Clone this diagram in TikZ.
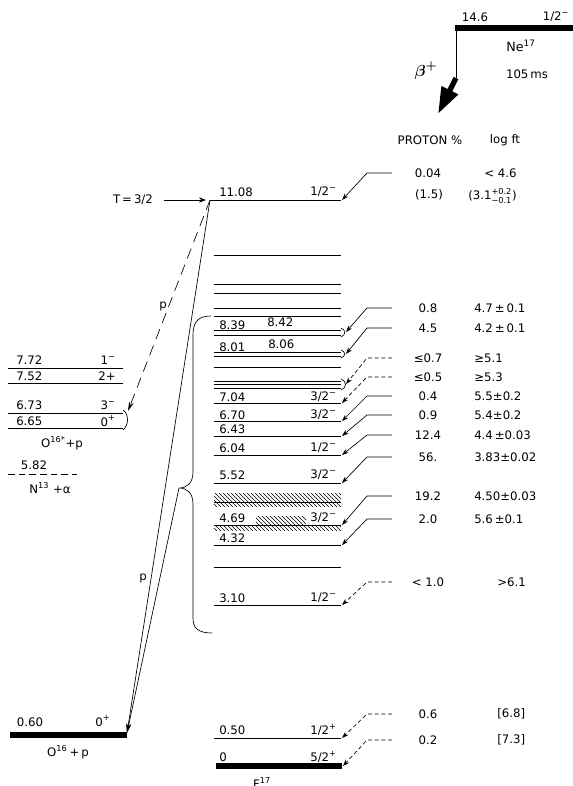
\documentclass[tikz,border=0pt]{standalone}
\usepackage{fontspec}
\setmainfont{DejaVu Sans}
\usepackage{amsmath}
\usetikzlibrary{arrows.meta, patterns, positioning}

\begin{document}
\begin{tikzpicture}[x=0.75pt, y=-0.75pt, >=Stealth,
  lvl/.style={line width=0.6pt},
  gnd/.style={line width=3.8pt},
  lab/.style={font=\fontsize{8.8}{10}\selectfont, inner sep=0pt},
  lead/.style={line width=0.5pt, -{Stealth[length=5pt,width=3.5pt]}},
  dleader/.style={dash pattern=on 3pt off 2pt},
  pline/.style={line width=0.5pt, -{Stealth[length=7pt,width=3.5pt]}},
  brk/.style={line width=0.5pt}]
\useasboundingbox (0,0) rectangle (573,786);

% Ne17 parent and beta branch
\draw[gnd] (455,28) -- (573,28);
\node[lab] (ne-e) at (475,17) {14.6};
\node[lab] (ne-j) at (556,17) {1/2\textsuperscript{−}};
\node[lab, font=\fontsize{9.5}{11}\selectfont] (ne-n) at (521,46) {Ne\textsuperscript{17}};
\node[lab] (ne-t) at (527,74) {105\,ms};
\node[lab, font=\fontsize{13}{14}\selectfont] (beta) at (426,71) {$\boldsymbol{\beta}^{\boldsymbol{+}}$};
\coordinate (bstart) at (456,30);
\coordinate (bknee) at (456,78);
\coordinate (btip) at (438,114);
\draw[line width=0.6pt] (bstart) -- (bknee);
\draw[line width=4pt, -{Triangle[length=20pt,width=13pt]}] (bknee) -- (btip);

% F17 levels
\draw[lvl] (210,200) -- (341,200);
\foreach \y in {255,284,293,308,316,330,335,352,356,367,381,384,388,
                403,421,436,455,483,502,525,545,567,605,738}
  \draw[lvl] (214,\y) -- (341,\y);
\draw[gnd] (216,766) -- (342,766);
% broad states
\fill[pattern=north west lines] (214,493) rectangle (341,506);
\fill[pattern=north west lines] (256,516) rectangle (306,524);
\fill[pattern=north west lines] (214,526) rectangle (341,530);
% unresolved pairs
\draw[brk] (341,328) .. controls (346,330) and (346,335) .. (341,337);
\draw[brk] (341,350) .. controls (346,352) and (346,356) .. (341,358);
\draw[brk] (341,379) .. controls (347,381) and (347,388) .. (341,390);

\foreach \y/\e in {192/11.08, 325/8.39, 347/8.01, 397/7.04, 415/6.70, 429/6.43,
                   448/6.04, 475/5.52, 518/4.69, 538/4.32, 598/3.10, 730/0.50, 757/0}
  \node[lab, anchor=west] (le-\y) at (219,\y) {\e};
\node[lab, anchor=west] (le-842) at (267,322) {8.42};
\node[lab, anchor=west] (le-806) at (268,344) {8.06};
\foreach \y/\j in {192/{1/2\textsuperscript{−}}, 397/{3/2\textsuperscript{−}},
                   415/{3/2\textsuperscript{−}}, 448/{1/2\textsuperscript{−}},
                   475/{3/2\textsuperscript{−}}, 518/{3/2\textsuperscript{−}},
                   598/{1/2\textsuperscript{−}}, 730/{1/2\textsuperscript{+}},
                   757/{5/2\textsuperscript{+}}}
  \node[lab, anchor=east] (lj-\y) at (337,\y) {\j};
\node[lab] (f17) at (262,783) {F\textsuperscript{17}};

% O16 + p side
\draw[gnd] (10,735) -- (127,735);
\node[lab] (o-e) at (30,722) {0.60};
\node[lab] (o-j) at (103,721) {0\textsuperscript{+}};
\node[lab] (o-n) at (68,752) {O\textsuperscript{16}\,+\,p};
\foreach \y in {368,383,413,428}
  \draw[lvl] (8,\y) -- (123,\y);
\foreach \y/\e/\j in {360/7.72/{1\textsuperscript{−}}, 376/7.52/{2+},
                      405/6.73/{3\textsuperscript{−}}, 421/6.65/{0\textsuperscript{+}}}
{
  \node[lab, anchor=west] (ol-\y) at (16,\y) {\e};
  \node[lab, anchor=east] (oj-\y) at (116,\y) {\j};
}
\draw[brk] (123,410) .. controls (129,414) and (129,425) .. (123,430);
\node[lab] (ostar) at (62,443) {O\textsuperscript{16*}+p};
\node[lab] (n-e) at (34,465) {5.82};
\draw[lvl, dash pattern=on 5pt off 3pt] (8,474) -- (77,474);
\node[lab] (n-n) at (50,488) {N\textsuperscript{13} +α};

% isospin marker and proton branches
\coordinate (top) at (210,200);
\coordinate (opb) at (127,733);
\coordinate (tip) at (179,488);
\coordinate (brk665) at (128,411);
\node[lab] (tiso) at (133,200) {T\,=\,3/2};
\draw[->, line width=0.5pt] ([xshift=8pt]tiso.east) -- ([xshift=-3pt]top);
\draw[brk] (211,316) .. controls (198,316) and (193,322) .. (193,335) -- (193,472)
  .. controls (193,483) and (187,488) .. (tip) .. controls (187,488) and (193,493) .. (193,504)
  -- (193,618) .. controls (193,628) and (198,633) .. (212,633);
\draw[pline] (top) -- (opb);
\draw[pline] (tip) -- (opb);
\draw[pline, dash pattern=on 8pt off 5pt] (top) -- (brk665);
\node[lab] (p-up) at (163,306) {p};
\node[lab] (p-lo) at (143,578) {p};

% proton branching and log ft
\node[lab] (hdr-p) at (430,140) {PROTON \%};
\node[lab] (hdr-f) at (505,140) {log ft};
\foreach \n/\x/\y in {a/342/200, b/346/332, c/346/354, d/346/384, e/342/403,
                      f/342/421, g/342/436, h/342/455, i/342/483, j/342/525,
                      k/342/545, l/342/605, m/342/738, n/343/766}
  \coordinate (end-\n) at (\x,\y);
\coordinate (colL) at (392,0);
\coordinate (colK) at (367,0);
\foreach \n/\ry/\pc/\lf/\lx/\st in {
    a/173/{0.04}/{< 4.6}/484/solid,
    b/308/{0.8}/{4.7\,±\,0.1}/474/solid,
    c/328/{4.5}/{4.2\,±\,0.1}/474/solid,
    d/358/{≤0.7}/{≥5.1}/474/dleader,
    e/377/{≤0.5}/{≥5.3}/474/dleader,
    f/396/{0.4}/{5.5±0.2}/474/solid,
    g/415/{0.9}/{5.4±0.2}/474/solid,
    h/435/{12.4}/{4.4\,±0.03}/474/solid,
    i/457/{56.}/{3.83±0.02}/474/solid,
    j/496/{19.2}/{4.50±0.03}/474/solid,
    k/519/{2.0}/{5.6\,±0.1}/474/solid,
    l/582/{< 1.0}/{>6.1}/497/dleader,
    m/714/{0.6}/{[6.8]}/497/dleader,
    n/740/{0.2}/{[7.3]}/497/dleader}
{
  \node[lab] (pc-\n) at (428,\ry) {\pc};
  \node[lab, anchor=west] (lf-\n) at (\lx,\ry) {\lf};
  \draw[lead, \st] (colL |- pc-\n) -- (colK |- pc-\n) -- (end-\n);
}
\node[lab] (pc-a2) at (429,195) {(1.5)};
\node[lab, anchor=west] (lf-a2) at (468,196) {(3.1$^{\text{+0.2}}_{\text{−0.1}}$)};
\end{tikzpicture}
\end{document}
